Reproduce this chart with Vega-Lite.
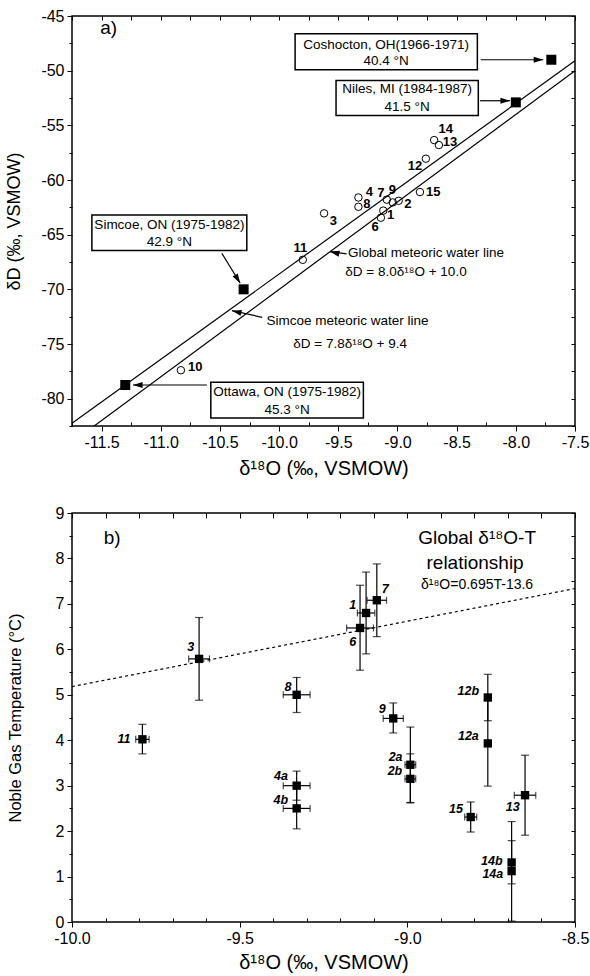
{
  "$schema": "https://vega.github.io/schema/vega-lite/v6.json",
  "padding": {"left": 5, "top": 7, "right": 12, "bottom": 0},
  "spacing": 25,
  "config": {
    "view": {"stroke": "black", "strokeWidth": 1.5},
    "axis": {"grid": false, "domain": false, "tickColor": "black", "tickWidth": 1, "labelColor": "black", "labelFont": "Liberation Sans", "labelFontSize": 16, "titleFont": "Liberation Sans", "titleFontSize": 20, "titleFontWeight": "normal", "titleColor": "black", "labelPadding": 3, "labelFlush": false, "labelOverlap": false, "labelBound": false}
  },
  "datasets": {
    "tlines": [
      {"line": "GMWL", "d18O": -11.75, "dD": -84.0},
      {"line": "GMWL", "d18O": -7.5, "dD": -50.0},
      {"line": "Simcoe", "d18O": -11.75, "dD": -82.25},
      {"line": "Simcoe", "d18O": -7.5, "dD": -49.1}
    ],
    "tpts": [
      {"id": "1", "d18O": -9.12, "dD": -62.8},
      {"id": "2", "d18O": -8.99, "dD": -61.9},
      {"id": "3", "d18O": -9.62, "dD": -63.05},
      {"id": "4", "d18O": -9.33, "dD": -61.6},
      {"id": "6", "d18O": -9.14, "dD": -63.45},
      {"id": "7", "d18O": -9.09, "dD": -61.8},
      {"id": "8", "d18O": -9.33, "dD": -62.45},
      {"id": "9", "d18O": -9.04, "dD": -62.05},
      {"id": "10", "d18O": -10.83, "dD": -77.4},
      {"id": "11", "d18O": -9.8, "dD": -67.3},
      {"id": "12", "d18O": -8.76, "dD": -58.05},
      {"id": "13", "d18O": -8.65, "dD": -56.8},
      {"id": "14", "d18O": -8.69, "dD": -56.35},
      {"id": "15", "d18O": -8.81, "dD": -61.1}
    ],
    "tlbl": [
      {"t": "14", "x": -8.592, "y": -55.32},
      {"t": "13", "x": -8.556, "y": -56.57},
      {"t": "12", "x": -8.851, "y": -58.74},
      {"t": "4", "x": -9.237, "y": -61.12},
      {"t": "8", "x": -9.259, "y": -62.18},
      {"t": "3", "x": -9.541, "y": -63.71},
      {"t": "7", "x": -9.141, "y": -61.21},
      {"t": "9", "x": -9.043, "y": -60.9},
      {"t": "2", "x": -8.913, "y": -62.18},
      {"t": "1", "x": -9.057, "y": -63.19},
      {"t": "6", "x": -9.189, "y": -64.26},
      {"t": "15", "x": -8.697, "y": -61.12},
      {"t": "11", "x": -9.82, "y": -66.2},
      {"t": "10", "x": -10.709, "y": -77.07}
    ],
    "stations": [
      {"name": "Coshocton", "d18O": -7.7, "dD": -49.0},
      {"name": "Niles", "d18O": -8.0, "dD": -52.9},
      {"name": "Simcoe", "d18O": -10.3, "dD": -70.0},
      {"name": "Ottawa", "d18O": -11.3, "dD": -78.75}
    ],
    "boxes": [
      {"name": "Coshocton", "x1": -9.865, "x2": -8.325, "y1": -46.63, "y2": -49.92},
      {"name": "Niles", "x1": -9.519, "x2": -8.317, "y1": -50.9, "y2": -54.1},
      {"name": "Simcoe", "x1": -11.582, "x2": -10.273, "y1": -63.19, "y2": -66.45},
      {"name": "Ottawa", "x1": -10.577, "x2": -9.288, "y1": -78.5, "y2": -81.76}
    ],
    "boxtext": [
      {"t": "Coshocton, OH(1966-1971)", "x": -9.096, "y": -47.63},
      {"t": "40.4 °N", "x": -9.096, "y": -49.16},
      {"t": "Niles, MI (1984-1987)", "x": -8.919, "y": -51.66},
      {"t": "41.5 °N", "x": -8.919, "y": -53.34},
      {"t": "Simcoe, ON (1975-1982)", "x": -10.927, "y": -64.1},
      {"t": "42.9 °N", "x": -10.927, "y": -65.7},
      {"t": "Ottawa, ON (1975-1982)", "x": -9.932, "y": -79.42},
      {"t": "45.3 °N", "x": -9.932, "y": -81.03}
    ],
    "arrows": [
      {"id": "Coshocton", "x1": -8.297, "y1": -49.0, "x2": -7.768, "y2": -49.0},
      {"id": "Niles", "x1": -8.302, "y1": -52.75, "x2": -8.049, "y2": -52.75},
      {"id": "Ottawa", "x1": -10.61, "y1": -78.75, "x2": -11.235, "y2": -78.75},
      {"id": "SimcoeBox", "x1": -10.484, "y1": -66.7, "x2": -10.329, "y2": -69.44},
      {"id": "SimcoeLine", "x1": -10.143, "y1": -72.56, "x2": -10.399, "y2": -71.95},
      {"id": "GlobalLine", "x1": -9.43, "y1": -66.76, "x2": -9.571, "y2": -66.55}
    ],
    "tnotes": [
      {"t": "Global meteoric water line", "x": -9.418, "y": -66.64},
      {"t": "Simcoe meteoric water line", "x": -10.106, "y": -72.86}
    ],
    "teqs": [
      {"t": "δD = 8.0δ¹⁸O + 10.0", "x": -8.928, "y": -68.38},
      {"t": "δD = 7.8δ¹⁸O + 9.4", "x": -9.4, "y": -74.96}
    ],
    "np": [
      {"id": "1", "d18O": -9.123, "T": 6.8, "ylo": 5.9, "yhi": 7.7, "xlo": -9.149, "xhi": -9.097},
      {"id": "2a", "d18O": -8.991, "T": 3.46, "ylo": 2.63, "yhi": 4.29, "xlo": -9.007, "xhi": -8.975},
      {"id": "2b", "d18O": -8.991, "T": 3.15, "ylo": 2.62, "yhi": 3.7, "xlo": -9.007, "xhi": -8.975},
      {"id": "3", "d18O": -9.621, "T": 5.79, "ylo": 4.88, "yhi": 6.7, "xlo": -9.652, "xhi": -9.59},
      {"id": "4a", "d18O": -9.33, "T": 3.0, "ylo": 2.68, "yhi": 3.32, "xlo": -9.37, "xhi": -9.29},
      {"id": "4b", "d18O": -9.33, "T": 2.5, "ylo": 2.05, "yhi": 2.96, "xlo": -9.37, "xhi": -9.29},
      {"id": "6", "d18O": -9.141, "T": 6.47, "ylo": 5.54, "yhi": 7.41, "xlo": -9.181, "xhi": -9.101},
      {"id": "7", "d18O": -9.091, "T": 7.08, "ylo": 6.28, "yhi": 7.88, "xlo": -9.12, "xhi": -9.062},
      {"id": "8", "d18O": -9.33, "T": 5.0, "ylo": 4.61, "yhi": 5.38, "xlo": -9.37, "xhi": -9.29},
      {"id": "9", "d18O": -9.042, "T": 4.48, "ylo": 4.16, "yhi": 4.82, "xlo": -9.072, "xhi": -9.012},
      {"id": "11", "d18O": -9.79, "T": 4.02, "ylo": 3.7, "yhi": 4.35, "xlo": -9.81, "xhi": -9.77},
      {"id": "12a", "d18O": -8.76, "T": 3.93, "ylo": 2.99, "yhi": 4.88, "xlo": null, "xhi": null},
      {"id": "12b", "d18O": -8.76, "T": 4.94, "ylo": 4.43, "yhi": 5.45, "xlo": null, "xhi": null},
      {"id": "13", "d18O": -8.649, "T": 2.79, "ylo": 1.91, "yhi": 3.67, "xlo": -8.681, "xhi": -8.617},
      {"id": "14a", "d18O": -8.689, "T": 1.12, "ylo": 0.02, "yhi": 2.21, "xlo": null, "xhi": null},
      {"id": "14b", "d18O": -8.689, "T": 1.31, "ylo": 0.84, "yhi": 1.79, "xlo": null, "xhi": null},
      {"id": "15", "d18O": -8.811, "T": 2.31, "ylo": 1.98, "yhi": 2.64, "xlo": -8.829, "xhi": -8.793}
    ],
    "nplbl": [
      {"t": "1", "x": -9.163, "y": 6.976},
      {"t": "7", "x": -9.066, "y": 7.328},
      {"t": "6", "x": -9.163, "y": 6.168},
      {"t": "8", "x": -9.356, "y": 5.165},
      {"t": "9", "x": -9.075, "y": 4.681},
      {"t": "2a", "x": -9.035, "y": 3.638},
      {"t": "2b", "x": -9.037, "y": 3.323},
      {"t": "4a", "x": -9.377, "y": 3.213},
      {"t": "4b", "x": -9.377, "y": 2.685},
      {"t": "3", "x": -9.646, "y": 6.045},
      {"t": "11", "x": -9.845, "y": 4.02},
      {"t": "12b", "x": -8.818, "y": 5.084},
      {"t": "12a", "x": -8.818, "y": 4.094},
      {"t": "13", "x": -8.686, "y": 2.538},
      {"t": "15", "x": -8.855, "y": 2.481},
      {"t": "14b", "x": -8.748, "y": 1.343},
      {"t": "14a", "x": -8.745, "y": 1.05}
    ],
    "globalT": [
      {"d18O": -10.0, "T": 5.18},
      {"d18O": -8.5, "T": 7.338}
    ],
    "bnotes": [
      {"t": "Global δ¹⁸O-T", "x": -8.792, "y": 8.45},
      {"t": "relationship", "x": -8.798, "y": 7.9}
    ]
  },
  "vconcat": [
    {
      "width": 503,
      "height": 410,
      "resolve": {"axis": {"x": "independent", "y": "independent"}},
      "layer": [
        {
          "data": {"name": "tlines"},
          "mark": {"type": "line", "color": "black", "strokeWidth": 1.2, "clip": true},
          "encoding": {
            "x": {"field": "d18O", "type": "quantitative", "scale": {"domain": [-11.75, -7.5], "nice": false, "zero": false},
              "axis": {"orient": "bottom", "values": [-11.5, -11, -10.5, -10, -9.5, -9, -8.5, -8, -7.5], "tickSize": 5, "labelExpr": "(datum.value < 0 ? '-' : '') + format(abs(datum.value), '.1f')", "title": "δ¹⁸O (‰, VSMOW)", "titlePadding": 8}},
            "y": {"field": "dD", "type": "quantitative", "scale": {"domain": [-82.5, -45], "nice": false, "zero": false},
              "axis": {"orient": "left", "values": [-80, -75, -70, -65, -60, -55, -50, -45], "tickSize": 5, "labelExpr": "(datum.value < 0 ? '-' : '') + format(abs(datum.value), 'd')", "title": "δD (‰, VSMOW)", "titleFontSize": 18, "titlePadding": 17}},
            "detail": {"field": "line"}
          }
        },
        {
          "data": {"name": "tpts"},
          "mark": {"type": "point", "shape": "circle", "filled": false, "color": "black", "strokeWidth": 1, "size": 56, "opacity": 1},
          "encoding": {
            "x": {"field": "d18O", "type": "quantitative", "scale": {"domain": [-11.75, -7.5], "nice": false, "zero": false},
              "axis": {"orient": "bottom", "values": [-11.75, -11.25, -10.75, -10.25, -9.75, -9.25, -8.75, -8.25, -7.75], "tickSize": -4, "labels": false, "title": null}},
            "y": {"field": "dD", "type": "quantitative", "scale": {"domain": [-82.5, -45], "nice": false, "zero": false},
              "axis": {"orient": "left", "values": [-82.5, -77.5, -72.5, -67.5, -62.5, -57.5, -52.5, -47.5], "tickSize": 3, "labels": false, "title": null}}
          }
        },
        {
          "data": {"name": "tlbl"},
          "mark": {"type": "text", "font": "Liberation Sans", "fontWeight": "bold", "fontSize": 13, "color": "black", "align": "center", "baseline": "middle"},
          "encoding": {
            "x": {"field": "x", "type": "quantitative", "scale": {"domain": [-11.75, -7.5], "nice": false, "zero": false},
              "axis": {"orient": "top", "values": [-11.75, -11.5, -11.25, -11, -10.75, -10.5, -10.25, -10, -9.75, -9.5, -9.25, -9, -8.75, -8.5, -8.25, -8, -7.75, -7.5], "tickSize": -4, "labels": false, "title": null}},
            "y": {"field": "y", "type": "quantitative", "scale": {"domain": [-82.5, -45], "nice": false, "zero": false},
              "axis": {"orient": "right", "values": [-82.5, -80, -77.5, -75, -72.5, -70, -67.5, -65, -62.5, -60, -57.5, -55, -52.5, -50, -47.5, -45], "tickSize": -4, "labels": false, "title": null}},
            "text": {"field": "t"}
          }
        },
        {
          "data": {"name": "stations"},
          "mark": {"type": "point", "shape": "square", "filled": true, "color": "black", "size": 100, "opacity": 1},
          "encoding": {
            "x": {"field": "d18O", "type": "quantitative", "scale": {"domain": [-11.75, -7.5], "nice": false, "zero": false}, "axis": null},
            "y": {"field": "dD", "type": "quantitative", "scale": {"domain": [-82.5, -45], "nice": false, "zero": false}, "axis": null}
          }
        },
        {
          "data": {"name": "boxes"},
          "mark": {"type": "rect", "fill": "white", "stroke": "black", "strokeWidth": 1.5},
          "encoding": {
            "x": {"field": "x1", "type": "quantitative", "scale": {"domain": [-11.75, -7.5], "nice": false, "zero": false}, "axis": null},
            "x2": {"field": "x2"},
            "y": {"field": "y1", "type": "quantitative", "scale": {"domain": [-82.5, -45], "nice": false, "zero": false}, "axis": null},
            "y2": {"field": "y2"}
          }
        },
        {
          "data": {"name": "boxtext"},
          "mark": {"type": "text", "font": "Liberation Sans", "fontSize": 13.5, "color": "black", "align": "center", "baseline": "middle"},
          "encoding": {
            "x": {"field": "x", "type": "quantitative", "axis": null},
            "y": {"field": "y", "type": "quantitative", "axis": null},
            "text": {"field": "t"}
          }
        },
        {
          "data": {"name": "arrows"},
          "mark": {"type": "rule", "color": "black", "strokeWidth": 1.2},
          "encoding": {
            "x": {"field": "x1", "type": "quantitative", "axis": null},
            "y": {"field": "y1", "type": "quantitative", "axis": null},
            "x2": {"field": "x2"},
            "y2": {"field": "y2"}
          }
        },
        {
          "data": {"name": "arrows"},
          "transform": [{"filter": "datum.id == 'Coshocton' || datum.id == 'Niles'"}],
          "mark": {"type": "point", "shape": "M0,0L0.5,1.6L-0.5,1.6Z", "filled": true, "color": "black", "size": 144, "opacity": 1, "angle": 90},
          "encoding": {
            "x": {"field": "x2", "type": "quantitative", "axis": null},
            "y": {"field": "y2", "type": "quantitative", "axis": null}
          }
        },
        {
          "data": {"name": "arrows"},
          "transform": [{"filter": "datum.id == 'Ottawa'"}],
          "mark": {"type": "point", "shape": "M0,0L0.5,1.6L-0.5,1.6Z", "filled": true, "color": "black", "size": 144, "opacity": 1, "angle": 270},
          "encoding": {
            "x": {"field": "x2", "type": "quantitative", "axis": null},
            "y": {"field": "y2", "type": "quantitative", "axis": null}
          }
        },
        {
          "data": {"name": "arrows"},
          "transform": [{"filter": "datum.id == 'SimcoeBox'"}],
          "mark": {"type": "point", "shape": "M0,0L0.5,1.6L-0.5,1.6Z", "filled": true, "color": "black", "size": 144, "opacity": 1, "angle": 148.6},
          "encoding": {
            "x": {"field": "x2", "type": "quantitative", "axis": null},
            "y": {"field": "y2", "type": "quantitative", "axis": null}
          }
        },
        {
          "data": {"name": "arrows"},
          "transform": [{"filter": "datum.id == 'SimcoeLine' || datum.id == 'GlobalLine'"}],
          "mark": {"type": "point", "shape": "M0,0L0.5,1.6L-0.5,1.6Z", "filled": true, "color": "black", "size": 144, "opacity": 1, "angle": 283},
          "encoding": {
            "x": {"field": "x2", "type": "quantitative", "axis": null},
            "y": {"field": "y2", "type": "quantitative", "axis": null}
          }
        },
        {
          "data": {"name": "tnotes"},
          "mark": {"type": "text", "font": "Liberation Sans", "fontSize": 13.5, "color": "black", "align": "left", "baseline": "middle"},
          "encoding": {
            "x": {"field": "x", "type": "quantitative", "axis": null},
            "y": {"field": "y", "type": "quantitative", "axis": null},
            "text": {"field": "t"}
          }
        },
        {
          "data": {"name": "teqs"},
          "mark": {"type": "text", "font": "Liberation Sans", "fontSize": 13.5, "color": "black", "align": "center", "baseline": "middle"},
          "encoding": {
            "x": {"field": "x", "type": "quantitative", "axis": null},
            "y": {"field": "y", "type": "quantitative", "axis": null},
            "text": {"field": "t"}
          }
        },
        {
          "data": {"values": [{"t": "a)", "x": -11.44, "y": -46.1}]},
          "mark": {"type": "text", "font": "Liberation Sans", "fontSize": 19, "color": "black", "align": "center", "baseline": "middle"},
          "encoding": {
            "x": {"field": "x", "type": "quantitative", "axis": null},
            "y": {"field": "y", "type": "quantitative", "axis": null},
            "text": {"field": "t"}
          }
        }
      ]
    },
    {
      "width": 503,
      "height": 409,
      "resolve": {"axis": {"x": "independent", "y": "independent"}},
      "layer": [
        {
          "data": {"name": "globalT"},
          "mark": {"type": "line", "color": "black", "strokeWidth": 1.2, "strokeDash": [3, 3]},
          "encoding": {
            "x": {"field": "d18O", "type": "quantitative", "scale": {"domain": [-10, -8.5], "nice": false, "zero": false},
              "axis": {"orient": "bottom", "values": [-10, -9.5, -9, -8.5], "tickSize": 5, "labelExpr": "(datum.value < 0 ? '-' : '') + format(abs(datum.value), '.1f')", "title": "δ¹⁸O (‰, VSMOW)", "titlePadding": 6}},
            "y": {"field": "T", "type": "quantitative", "scale": {"domain": [0, 9], "nice": false, "zero": false},
              "axis": {"orient": "left", "values": [0, 1, 2, 3, 4, 5, 6, 7, 8, 9], "tickSize": 5, "format": "d", "title": "Noble Gas Temperature (°C)", "titleFontSize": 16.5, "titlePadding": 32}}
          }
        },
        {
          "data": {"name": "np"},
          "mark": {"type": "rule", "color": "black", "strokeWidth": 1.2},
          "encoding": {
            "x": {"field": "d18O", "type": "quantitative", "scale": {"domain": [-10, -8.5], "nice": false, "zero": false},
              "axis": {"orient": "bottom", "values": [-9.9, -9.8, -9.7, -9.6, -9.4, -9.3, -9.2, -9.1, -8.9, -8.8, -8.7, -8.6], "tickSize": -4, "labels": false, "title": null}},
            "y": {"field": "ylo", "type": "quantitative", "scale": {"domain": [0, 9], "nice": false, "zero": false},
              "axis": {"orient": "left", "values": [0.5, 1.5, 2.5, 3.5, 4.5, 5.5, 6.5, 7.5, 8.5], "tickSize": 3, "labels": false, "title": null}},
            "y2": {"field": "yhi"}
          }
        },
        {
          "data": {"name": "np"},
          "transform": [{"filter": "datum.xlo != null"}],
          "mark": {"type": "rule", "color": "black", "strokeWidth": 1.2},
          "encoding": {
            "x": {"field": "xlo", "type": "quantitative", "scale": {"domain": [-10, -8.5], "nice": false, "zero": false},
              "axis": {"orient": "top", "values": [-10, -9.9, -9.8, -9.7, -9.6, -9.5, -9.4, -9.3, -9.2, -9.1, -9, -8.9, -8.8, -8.7, -8.6, -8.5], "tickSize": -5, "labels": false, "title": null}},
            "x2": {"field": "xhi"},
            "y": {"field": "T", "type": "quantitative", "scale": {"domain": [0, 9], "nice": false, "zero": false},
              "axis": {"orient": "right", "values": [0, 0.5, 1, 1.5, 2, 2.5, 3, 3.5, 4, 4.5, 5, 5.5, 6, 6.5, 7, 7.5, 8, 8.5, 9], "tickSize": -4, "labels": false, "title": null}}
          }
        },
        {
          "data": {"name": "np"},
          "mark": {"type": "tick", "orient": "horizontal", "color": "black", "size": 8, "thickness": 1.2},
          "encoding": {
            "x": {"field": "d18O", "type": "quantitative", "axis": null},
            "y": {"field": "ylo", "type": "quantitative", "axis": null}
          }
        },
        {
          "data": {"name": "np"},
          "mark": {"type": "tick", "orient": "horizontal", "color": "black", "size": 8, "thickness": 1.2},
          "encoding": {
            "x": {"field": "d18O", "type": "quantitative", "axis": null},
            "y": {"field": "yhi", "type": "quantitative", "axis": null}
          }
        },
        {
          "data": {"name": "np"},
          "transform": [{"filter": "datum.xlo != null"}],
          "mark": {"type": "tick", "orient": "vertical", "color": "black", "size": 7, "thickness": 1.2},
          "encoding": {
            "x": {"field": "xlo", "type": "quantitative", "axis": null},
            "y": {"field": "T", "type": "quantitative", "axis": null}
          }
        },
        {
          "data": {"name": "np"},
          "transform": [{"filter": "datum.xlo != null"}],
          "mark": {"type": "tick", "orient": "vertical", "color": "black", "size": 7, "thickness": 1.2},
          "encoding": {
            "x": {"field": "xhi", "type": "quantitative", "axis": null},
            "y": {"field": "T", "type": "quantitative", "axis": null}
          }
        },
        {
          "data": {"name": "np"},
          "mark": {"type": "point", "shape": "square", "filled": true, "color": "black", "size": 70, "opacity": 1},
          "encoding": {
            "x": {"field": "d18O", "type": "quantitative", "axis": null},
            "y": {"field": "T", "type": "quantitative", "axis": null}
          }
        },
        {
          "data": {"name": "nplbl"},
          "mark": {"type": "text", "font": "Liberation Sans", "fontWeight": "bold", "fontStyle": "italic", "fontSize": 12.5, "color": "black", "align": "center", "baseline": "middle"},
          "encoding": {
            "x": {"field": "x", "type": "quantitative", "axis": null},
            "y": {"field": "y", "type": "quantitative", "axis": null},
            "text": {"field": "t"}
          }
        },
        {
          "data": {"name": "bnotes"},
          "mark": {"type": "text", "font": "Liberation Sans", "fontSize": 19, "color": "black", "align": "center", "baseline": "middle"},
          "encoding": {
            "x": {"field": "x", "type": "quantitative", "axis": null},
            "y": {"field": "y", "type": "quantitative", "axis": null},
            "text": {"field": "t"}
          }
        },
        {
          "data": {"values": [{"t": "δ¹⁸O=0.695T-13.6", "x": -8.792, "y": 7.42}]},
          "mark": {"type": "text", "font": "Liberation Sans", "fontSize": 14, "color": "black", "align": "center", "baseline": "middle"},
          "encoding": {
            "x": {"field": "x", "type": "quantitative", "axis": null},
            "y": {"field": "y", "type": "quantitative", "axis": null},
            "text": {"field": "t"}
          }
        },
        {
          "data": {"values": [{"t": "b)", "x": -9.88, "y": 8.45}]},
          "mark": {"type": "text", "font": "Liberation Sans", "fontSize": 19, "color": "black", "align": "center", "baseline": "middle"},
          "encoding": {
            "x": {"field": "x", "type": "quantitative", "axis": null},
            "y": {"field": "y", "type": "quantitative", "axis": null},
            "text": {"field": "t"}
          }
        }
      ]
    }
  ]
}
